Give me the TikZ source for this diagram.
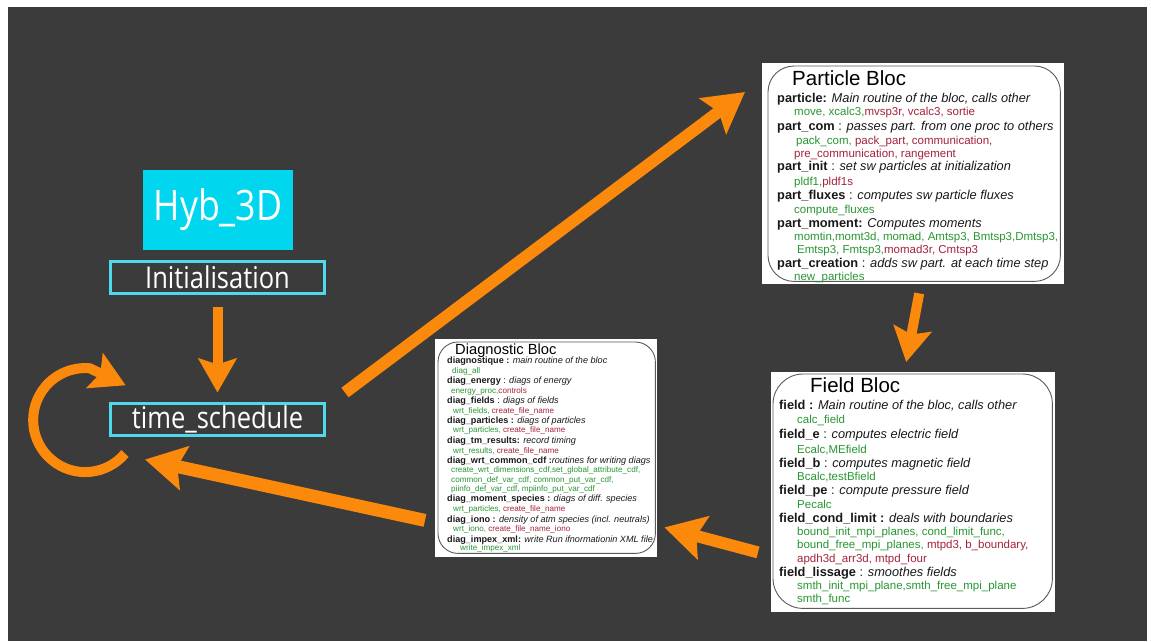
\documentclass[tikz,border=0pt]{standalone}
\usepackage{fontspec}
\setmainfont{Liberation Sans}
\newfontfamily\condf[FakeStretch=0.85]{Open Sans}
\usetikzlibrary{arrows.meta,calc}
\definecolor{bgd}{RGB}{59,59,59}
\definecolor{cyanf}{RGB}{0,214,238}
\definecolor{cyanb}{RGB}{80,216,236}
\definecolor{orng}{RGB}{250,137,12}
\definecolor{gn}{RGB}{40,150,50}
\definecolor{rd}{RGB}{165,35,60}
\definecolor{bord}{RGB}{90,90,90}
\definecolor{txt}{RGB}{25,25,25}
\newcommand\fA{\fontsize{12.8}{14}\selectfont}
\newcommand\fB{\fontsize{11.5}{13}\selectfont}
\newcommand\fC{\fontsize{9.1}{10}\selectfont}
\newcommand\fD{\fontsize{8.1}{9}\selectfont}
\newcommand\fT{\fontsize{20.5}{22}\selectfont}
\newcommand\fTd{\fontsize{14.7}{16}\selectfont}
\newcommand\G[1]{{\color{gn}#1}}
\newcommand\R[1]{{\color{rd}#1}}
\newcommand\tl[5]{\node[tline,#1] (#2) at (#3,#4) {#5};}
\tikzset{
  tline/.style={anchor=base west, inner sep=0pt, text=txt},
  cbox/.style={draw=cyanb, line width=3pt, fill=bgd, text=white, inner sep=0pt,
    font=\condf\fontsize{30}{32}\selectfont, minimum width=214pt, minimum height=32pt},
  hybbox/.style={fill=cyanf, text=white, inner sep=0pt,
    font=\condf\fontsize{42}{44}\selectfont, minimum width=150pt, minimum height=80pt},
  wbloc/.style={fill=white, inner sep=0pt, anchor=north west},
  rborder/.style={draw=bord, line width=0.9pt},
  oarr/.style={draw=orng, line width=#1, -{Stealth[length=40pt,width=44pt,inset=7pt]}},
  oarr/.default=12pt,
  sarr/.style={draw=orng, line width=10pt, -{Stealth[length=34pt,width=38pt,inset=6pt]}}
}
\begin{document}
\begin{tikzpicture}[x=1pt,y=-1pt]
\useasboundingbox (0,0) rectangle (1151,641);
\fill[white] (0,0) rectangle (1151,641);
\fill[bgd] (8,7) rectangle (1147,641);

% left nodes
\node[hybbox] (hyb) at (218,210) {Hyb\_3D};
\node[cbox] (init) at (217.5,277.5) {Initialisation};
\node[cbox] (ts) at (217.5,419) {time\_schedule};

% blocs
\node[wbloc, minimum width=302pt, minimum height=221pt] (pb) at (762,63) {};
\draw[rborder, rounded corners=26pt] ([xshift=6pt,yshift=-3pt]pb.north west) rectangle ([xshift=-4pt,yshift=3pt]pb.south east);
\node[wbloc, minimum width=284pt, minimum height=240pt] (fb) at (771,372) {};
\draw[rborder, rounded corners=30pt] ([xshift=2pt,yshift=-2pt]fb.north west) rectangle ([xshift=-3pt,yshift=4pt]fb.south east);
\node[wbloc, minimum width=222pt, minimum height=218pt] (db) at (435,339) {};
\draw[rborder, rounded corners=20pt] ([xshift=3pt,yshift=-3pt]db.north west) rectangle ([xshift=-2pt,yshift=4pt]db.south east);

% Particle bloc text
\tl{font=\fT,text=black}{pT}{792}{85}{Particle Bloc}
\tl{font=\fA}{p1}{777}{102}{\textbf{particle:} \textit{Main routine of the bloc, calls other}}
\tl{font=\fB}{p2}{794}{115}{\G{move, xcalc3,}\R{mvsp3r, vcalc3, sortie}}
\tl{font=\fA}{p3}{777}{130}{\textbf{part\_com} : \textit{passes part. from one proc to others}}
\tl{font=\fB}{p4}{796}{144}{\G{pack\_com,} \R{pack\_part, communication,}}
\tl{font=\fB}{p5}{794}{157}{\R{pre\_communication, rangement}}
\tl{font=\fA}{p6}{777}{170}{\textbf{part\_init} : \textit{set sw particles at initialization}}
\tl{font=\fB}{p7}{794}{185}{\G{pldf1,}\R{pldf1s}}
\tl{font=\fA}{p8}{777}{199}{\textbf{part\_fluxes} : \textit{computes sw particle fluxes}}
\tl{font=\fB}{p9}{794}{213}{\G{compute\_fluxes}}
\tl{font=\fA}{p10}{777}{227}{\textbf{part\_moment:} \textit{Computes moments}}
\tl{font=\fB}{p11}{794}{240}{\G{momtin,momt3d, momad, Amtsp3, Bmtsp3,Dmtsp3,}}
\tl{font=\fB}{p12}{797}{253}{\G{Emtsp3, Fmtsp3,}\R{momad3r, Cmtsp3}}
\tl{font=\fA}{p13}{777}{267}{\textbf{part\_creation} : \textit{adds sw part. at each time step}}
\tl{font=\fB}{p14}{794}{280}{\G{new\_particles}}

% Field bloc text
\tl{font=\fT,text=black}{fT}{810}{392}{Field Bloc}
\tl{font=\fA}{f1}{779}{409}{\textbf{field :} \textit{Main routine of the bloc, calls other}}
\tl{font=\fB}{f2}{797}{423}{\G{calc\_field}}
\tl{font=\fA}{f3}{779}{438}{\textbf{field\_e} : \textit{computes electric field}}
\tl{font=\fB}{f4}{797}{453}{\G{Ecalc,MEfield}}
\tl{font=\fA}{f5}{779}{467}{\textbf{field\_b} : \textit{computes magnetic field}}
\tl{font=\fB}{f6}{797}{480}{\G{Bcalc,testBfield}}
\tl{font=\fA}{f7}{779}{494}{\textbf{field\_pe} : \textit{compute pressure field}}
\tl{font=\fB}{f8}{797}{508}{\G{Pecalc}}
\tl{font=\fA}{f9}{779}{522}{\textbf{field\_cond\_limit :} \textit{deals with boundaries}}
\tl{font=\fB}{f10}{797}{535}{\G{bound\_init\_mpi\_planes, cond\_limit\_func,}}
\tl{font=\fB}{f11}{797}{548}{\G{bound\_free\_mpi\_planes,} \R{mtpd3, b\_boundary,}}
\tl{font=\fB}{f12}{797}{562}{\R{apdh3d\_arr3d, mtpd\_four}}
\tl{font=\fA}{f13}{779}{576}{\textbf{field\_lissage} : \textit{smoothes fields}}
\tl{font=\fB}{f14}{797}{589}{\G{smth\_init\_mpi\_plane,smth\_free\_mpi\_plane}}
\tl{font=\fB}{f15}{797}{602}{\G{smth\_func}}

% Diagnostic bloc text
\tl{font=\fTd,text=black}{dT}{455}{354}{Diagnostic Bloc}
\tl{font=\fC}{d1}{447}{363}{\textbf{diagnostique :} \textit{main routine of the bloc}}
\tl{font=\fD}{d2}{452}{373}{\G{diag\_all}}
\tl{font=\fC}{d3}{447}{383}{\textbf{diag\_energy} : \textit{diags of energy}}
\tl{font=\fD}{d4}{451}{393}{\G{energy\_proc,}\R{controls}}
\tl{font=\fC}{d5}{447}{403}{\textbf{diag\_fields} : \textit{diags of fields}}
\tl{font=\fD}{d6}{453}{413}{\G{wrt\_fields,} \R{create\_file\_name}}
\tl{font=\fC}{d7}{447}{423}{\textbf{diag\_particles :} \textit{diags of particles}}
\tl{font=\fD}{d8}{453}{432}{\G{wrt\_particles,} \R{create\_file\_name}}
\tl{font=\fC}{d9}{447}{443}{\textbf{diag\_tm\_results:} \textit{record timing}}
\tl{font=\fD}{d10}{453}{453}{\G{wrt\_results,} \R{create\_file\_name}}
\tl{font=\fC}{d11}{447}{463}{\textbf{diag\_wrt\_common\_cdf :}\textit{routines for writing diags}}
\tl{font=\fD}{d12}{451}{472}{\G{create\_wrt\_dimensions\_cdf,set\_global\_attribute\_cdf,}}
\tl{font=\fD}{d13}{451}{482}{\G{common\_def\_var\_cdf, common\_put\_var\_cdf,}}
\tl{font=\fD}{d14}{451}{491}{\G{piinfo\_def\_var\_cdf, mpiinfo\_put\_var\_cdf}}
\tl{font=\fC}{d15}{447}{501}{\textbf{diag\_moment\_species :} \textit{diags of diff. species}}
\tl{font=\fD}{d16}{453}{511}{\G{wrt\_particles,} \R{create\_file\_name}}
\tl{font=\fC}{d17}{447}{522}{\textbf{diag\_iono :} \textit{density of atm species (incl. neutrals)}}
\tl{font=\fD}{d18}{453}{531}{\G{wrt\_iono,} \R{create\_file\_name\_iono}}
\tl{font=\fC}{d19}{447}{542}{\textbf{diag\_impex\_xml:} \textit{write Run ifnormationin XML file}}
\tl{font=\fD}{d20}{460}{550}{\G{write\_impex\_xml}}

% arrows
\draw[sarr] ([yshift=-12pt]init.south) -- ([yshift=9pt]ts.north);
\draw[oarr=12pt] ([xshift=19pt,yshift=9pt]ts.north east) -- ([xshift=-17pt,yshift=-29pt]pb.north west);
\draw[sarr] ([xshift=6pt,yshift=-9pt]pb.south) -- ([xshift=-7pt,yshift=10pt]fb.north);
\draw[oarr=12pt] ([xshift=-13pt,yshift=60pt]fb.south west) -- ([xshift=7pt,yshift=30pt]db.south east);
\draw[oarr=13pt] ([xshift=-10pt,yshift=37pt]db.south west) -- ([xshift=36pt,yshift=-23pt]ts.south west);
\coordinate (lp) at ([xshift=16pt,yshift=-17pt]ts.south west);
\draw[sarr] (lp) arc[start angle=40, end angle=275, radius=52] -- ++(36,17);
\end{tikzpicture}
\end{document}
